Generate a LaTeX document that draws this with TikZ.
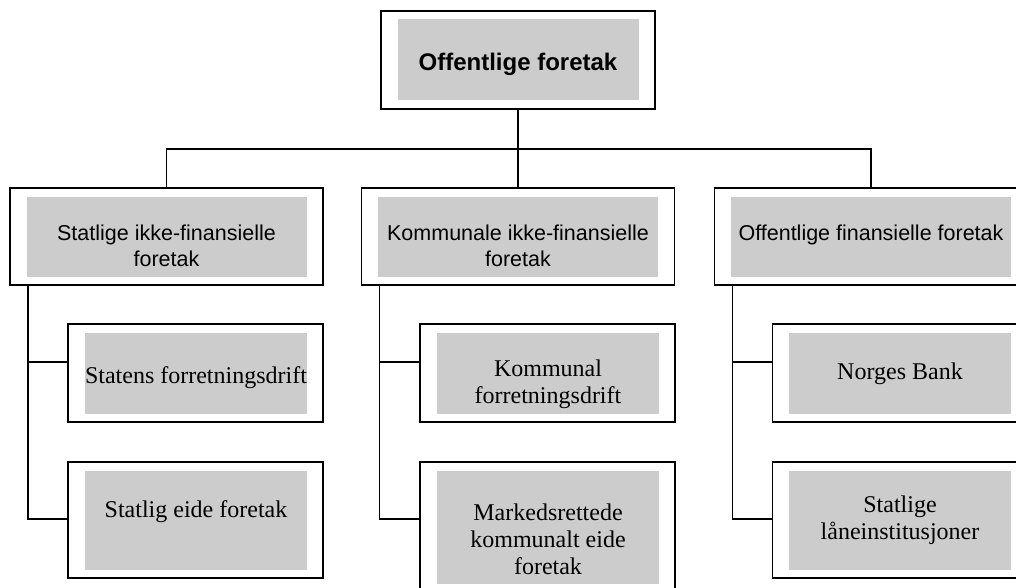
\documentclass[tikz,border=0pt]{standalone}
\usepackage{fontspec}
\setmainfont{Liberation Serif}
\newfontfamily\arialfont{Liberation Sans}
\usetikzlibrary{calc}
\definecolor{boxgray}{HTML}{CCCCCC}
\tikzset{
  frame/.style={draw, line width=1.8pt, fill=white, inner sep=0pt,
    path picture={\fill[boxgray]
      ([xshift=16.5pt,yshift=8.5pt]path picture bounding box.south west) rectangle
      ([xshift=-16.5pt,yshift=-8.5pt]path picture bounding box.north east);}},
  grpbox/.style={frame, minimum width=313pt, minimum height=97pt},
  unitbox/.style={frame, minimum width=255pt, minimum height=98pt},
  toptxt/.style={font=\arialfont\bfseries\fontsize{24}{27.6}\selectfont, anchor=north, inner sep=0pt},
  grptxt/.style={font=\arialfont\fontsize{21.5}{26}\selectfont, align=center, anchor=north, inner sep=0pt},
  unittxt/.style={font=\fontsize{24}{27}\selectfont, align=center, anchor=north, inner sep=0pt},
  link/.style={line width=1.6pt}
}

\begin{document}
\begin{tikzpicture}[x=1pt, y=-1pt]
        \useasboundingbox (0,0) rectangle (1016,588);
        \clip (0,0) rectangle (1016,588);
        % Top level
        \node[frame, minimum width=274pt, minimum height=98pt] (top) at (518,60) {};
        \node[toptxt] (top-txt) at (518,52.5) {Offentlige foretak};
        % Second level
        \node[grpbox] (stat) at (166.5,236.5) {};
        \node[grpbox] (kom) at (518,236.5) {};
        \node[grpbox] (fin) at (871,236.5) {};
        \node[grptxt] (stat-txt) at (166.5,224.3) {Statlige ikke-finansielle\\foretak};
        \node[grptxt] (kom-txt) at (518,224.3) {Kommunale ikke-finansielle\\foretak};
        \node[grptxt] (fin-txt) at (871,224.3) {Offentlige finansielle foretak};
        % Third level
        \node[unitbox] (sfd) at (195.5,373) {};
        \node[unitbox, minimum height=116pt] (sed) at (195.5,520) {};
        \node[unitbox] (kfd) at (547.5,373) {};
        \node[unitbox, minimum height=130pt] (mke) at (547.5,527) {};
        \node[unitbox] (nb) at (900,373) {};
        \node[unitbox, minimum height=116pt] (sli) at (900,520) {};
        \node[unittxt] (sfd-txt) at (196,366.6) {Statens forretningsdrift};
        \node[unittxt] (sed-txt) at (196,500.6) {Statlig eide foretak};
        \node[unittxt] (kfd-txt) at (548,359.6) {Kommunal\\forretningsdrift};
        \node[unittxt] (mke-txt) at (548,503.6) {Markedsrettede\\kommunalt eide\\foretak};
        \node[unittxt] (nb-txt) at (900,362.9) {Norges Bank};
        \node[unittxt] (sli-txt) at (900,495.3) {Statlige\\låneinstitusjoner};
        % Bus from the top box
        \coordinate (bus) at ($(top.south)+(0,39)$);
        \draw[link] (top.south) -- (bus);
        \draw[link] (bus) -| (stat.north);
        \draw[link] (bus) -- (kom.north);
        \draw[link] (bus) -| (fin.north);
        % Trunks down to the units
        \coordinate (stat-trunk) at ($(stat.south west)+(19,0)$);
        \coordinate (kom-trunk) at ($(kom.south west)+(19,0)$);
        \coordinate (fin-trunk) at ($(fin.south west)+(19,0)$);
        \draw[link] (stat-trunk) |- ($(sfd.west)+(0,-11)$);
        \draw[link] (stat-trunk) |- ($(sed.west)+(0,-1)$);
        \draw[link] (kom-trunk) |- ($(kfd.west)+(0,-11)$);
        \draw[link] (kom-trunk) |- ($(mke.west)+(0,-8)$);
        \draw[link] (fin-trunk) |- ($(nb.west)+(0,-11)$);
        \draw[link] (fin-trunk) |- ($(sli.west)+(0,-1)$);
\end{tikzpicture}
\end{document}
